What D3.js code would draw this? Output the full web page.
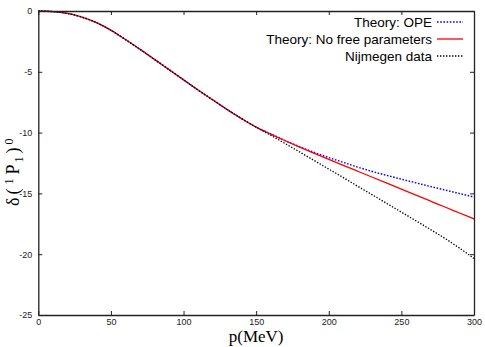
<!DOCTYPE html>
<html><head><meta charset="utf-8">
<script src="https://cdn.jsdelivr.net/npm/d3@7"></script>
<style>body{margin:0;background:#fff}svg{display:block}</style>
</head><body><svg id="c" width="485" height="347"></svg>
<script>
const xTicks = [0,50,100,150,200,250,300];
const yTicks = [0,-5,-10,-15,-20,-25];
const pCommon = [0,10,20,30,40,50,60,70,80,90,100,110,120,130,140,150];
const dCommon = [0,-0.05,-0.2,-0.5,-0.95,-1.58,-2.35,-3.15,-3.98,-4.82,-5.66,-6.5,-7.3,-8.1,-8.85,-9.55];
const pTail = [160,170,180,190,200,210,220,230,240,250,260,270,280,290,300];
const opeTail = [-10.1,-10.66,-11.17,-11.63,-12.05,-12.45,-12.84,-13.2,-13.52,-13.83,-14.13,-14.43,-14.72,-15.01,-15.3];
const nfpTail = [-10.12,-10.67,-11.2,-11.71,-12.2,-12.69,-13.18,-13.67,-14.16,-14.65,-15.14,-15.63,-16.12,-16.61,-17.1];
const nijTail = [-10.22,-10.9,-11.6,-12.3,-13.0,-13.7,-14.42,-15.12,-15.83,-16.54,-17.25,-17.97,-18.7,-19.5,-20.35];
const seriesNames = ["Theory: OPE","Theory: No free parameters","Nijmegen data"];
const seriesColors = ["#0000ff","#ff0000","#000000"];

const svg = d3.select("#c");
const L=38.3, R=474, T=11, B=315;
const x = d3.scaleLinear().domain([0,300]).range([L,R]);
const y = d3.scaleLinear().domain([-25,0]).range([B,T]);

const mk = tail => pCommon.map((p,i)=>[p,dCommon[i]]).concat(pTail.map((p,i)=>[p,tail[i]]));
const series = [mk(opeTail), mk(nfpTail), mk(nijTail)];
const dash = ["1.6,1.6", null, "1.4,1.6"];
const widths = [1.4, 1.3, 1.3];

const line = d3.line().x(d=>x(d[0])).y(d=>y(d[1])).curve(d3.curveMonotoneX);
series.forEach((s,i)=>{
  svg.append("path").attr("d", line(s)).attr("fill","none")
    .attr("stroke", seriesColors[i]).attr("stroke-width", widths[i])
    .attr("stroke-dasharray", dash[i]);
});

const tl = 4;
const fmt = d => String(d);
const xb = d3.axisBottom(x).tickValues(xTicks).tickSizeInner(-tl).tickSizeOuter(0).tickPadding(5).tickFormat(fmt);
const gx = svg.append("g").attr("transform",`translate(0,${B})`).call(xb);
const yl = d3.axisLeft(y).tickValues(yTicks).tickSizeInner(-tl).tickSizeOuter(0).tickPadding(6).tickFormat(fmt);
const gy = svg.append("g").attr("transform",`translate(${L},0)`).call(yl);
const xt = d3.axisTop(x).tickValues(xTicks).tickSizeInner(-tl).tickSizeOuter(0).tickFormat("");
const gxt = svg.append("g").attr("transform",`translate(0,${T})`).call(xt);
const yr = d3.axisRight(y).tickValues(yTicks).tickSizeInner(-tl).tickSizeOuter(0).tickFormat("");
const gyr = svg.append("g").attr("transform",`translate(${R},0)`).call(yr);
[gx,gy,gxt,gyr].forEach(g=>{
  g.select(".domain").attr("stroke","#222").attr("stroke-width",1.3);
  g.selectAll(".tick line").attr("stroke","#222").attr("stroke-width",1);
  g.selectAll("text").attr("font-family","Liberation Sans, Arial, sans-serif").attr("font-size",9).attr("fill","#222");
});
gx.selectAll(".tick text").attr("dy","0.6em");

// legend
const lg = svg.append("g").attr("font-family","Liberation Sans, Arial, sans-serif").attr("font-size",13.5);
const rowsY = [22,39,56];
seriesNames.forEach((n,i)=>{
  lg.append("text").attr("x",432).attr("y",rowsY[i]).attr("dy","0.35em").attr("text-anchor","end").attr("fill","#000").text(n);
  lg.append("line").attr("x1",437).attr("x2",463).attr("y1",rowsY[i]).attr("y2",rowsY[i])
    .attr("stroke",seriesColors[i]).attr("stroke-width",widths[i]).attr("stroke-dasharray",dash[i]);
});

// axis titles
svg.append("text").attr("x",(L+R)/2).attr("y",342).attr("text-anchor","middle")
  .attr("font-family","Liberation Serif, Times New Roman, serif").attr("font-size",17).attr("fill","#000").text("p(MeV)");
const yt = svg.append("text").attr("transform","translate(19,206) rotate(-90)").attr("text-anchor","start")
  .attr("font-family","Liberation Serif, Times New Roman, serif").attr("font-size",18).attr("fill","#000");
yt.append("tspan").text("δ");
yt.append("tspan").attr("dx",3).text("(");
yt.append("tspan").attr("font-size",12).attr("dx",4).attr("dy",-6).text("1");
yt.append("tspan").attr("dx",4).attr("dy",6).text("P");
yt.append("tspan").attr("font-size",12).attr("dx",2).attr("dy",4).text("1");
yt.append("tspan").attr("dx",3).attr("dy",-4).text(")");
yt.append("tspan").attr("font-size",12).attr("dx",3).attr("dy",-6).text("0");
</script></body></html>
